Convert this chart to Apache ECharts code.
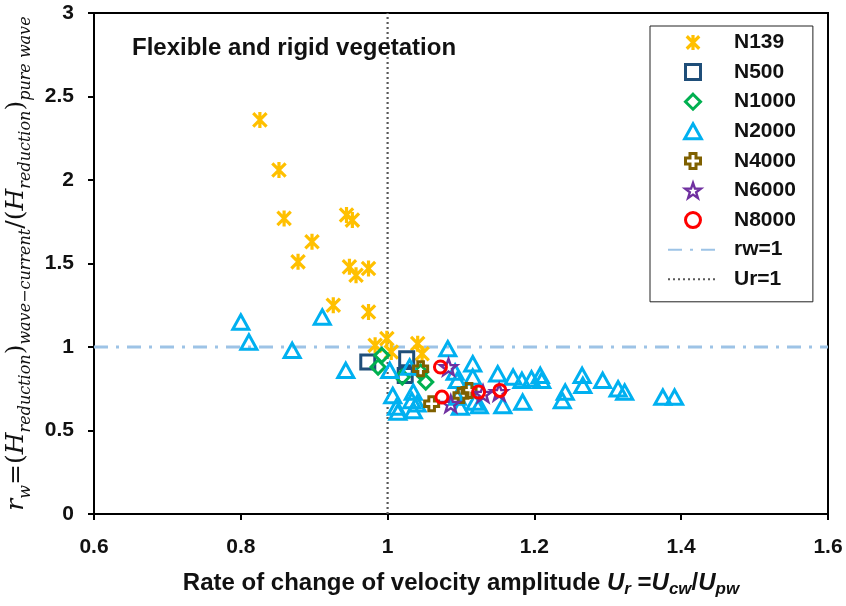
<!DOCTYPE html>
<html><head><meta charset="utf-8">
<script src="https://cdn.jsdelivr.net/npm/echarts@6/dist/echarts.min.js"></script>
<style>html,body{margin:0;padding:0;background:#fff}#c{width:846px;height:606px}</style>
</head><body><div id="c"></div>
<script>
const xTicks = [0.6, 0.8, 1.0, 1.2, 1.4, 1.6];
const yTicks = [0, 0.5, 1, 1.5, 2, 2.5, 3];
const seriesNames = ['N139','N500','N1000','N2000','N4000','N6000','N8000'];
const N139 = [[0.826,2.36],[0.852,2.06],[0.859,1.77],[0.878,1.51],[0.897,1.63],[0.926,1.25],[0.944,1.79],[0.952,1.76],[0.948,1.48],[0.957,1.43],[0.974,1.47],[0.974,1.21],[0.983,1.01],[0.999,1.05],[1.005,0.97],[1.041,1.02],[1.047,0.96]];
const N500 = [[0.973,0.91],[1.026,0.93],[1.024,0.83]];
const N1000 = [[0.992,0.95],[0.987,0.88],[1.020,0.82],[1.045,0.85],[1.052,0.79]];
const N2000 = [[0.800,1.15],[0.811,1.03],[0.870,0.98],[0.911,1.18],[0.943,0.86],[1.003,0.86],[1.007,0.71],[1.012,0.64],[1.014,0.61],[1.030,0.88],[1.033,0.68],[1.035,0.73],[1.035,0.62],[1.040,0.66],[1.082,0.99],[1.092,0.85],[1.095,0.80],[1.095,0.70],[1.099,0.64],[1.116,0.90],[1.116,0.82],[1.119,0.67],[1.125,0.65],[1.150,0.84],[1.157,0.65],[1.171,0.82],[1.183,0.80],[1.184,0.67],[1.196,0.81],[1.208,0.83],[1.210,0.80],[1.238,0.68],[1.242,0.73],[1.265,0.83],[1.266,0.77],[1.293,0.80],[1.314,0.75],[1.323,0.73],[1.375,0.70],[1.391,0.70]];
const N4000 = [[1.045,0.87],[1.060,0.66],[1.100,0.71],[1.111,0.74]];
const N6000 = [[1.083,0.88],[1.086,0.66],[1.130,0.72],[1.152,0.73]];
const N8000 = [[1.072,0.88],[1.074,0.70],[1.124,0.73],[1.153,0.74]];
const rwLine = [[0.6,1],[1.6,1]];
const urLine = [[1,0],[1,3]];

const ASTER = 'path://M0,0L10,10M10,0L0,10M5,-1L5,11';
const SQUARE = 'path://M0,0L10,0L10,10L0,10Z';
const DIAMOND = 'path://M5,0L10,5L5,10L0,5Z';
const TRI = 'path://M5,0L10,9L0,9Z';
const CROSS = 'path://M3,0L7,0L7,3L10,3L10,7L7,7L7,10L3,10L3,7L0,7L0,3L3,3Z';
const STAR = 'path://M5,0L6.18,3.38L9.76,3.45L6.9,5.62L7.94,9.05L5,7L2.06,9.05L3.1,5.62L0.24,3.45L3.82,3.38Z';

function sc(name, data, symbol, size, color, bw) {
  return {type:'scatter', name, data, symbol, symbolSize:size, symbolKeepAspect:true,
    itemStyle:{color:'rgba(0,0,0,0)', borderColor:color, borderWidth:bw, opacity:1},
    emphasis:{disabled:true}, z:3};
}
const chart = echarts.init(document.getElementById('c'), null, {renderer:'canvas'});
const F = "'Liberation Sans', Arial, sans-serif";
const SERIF = "'DejaVu Serif', 'Liberation Serif', serif";
chart.setOption({
  animation:false,
  backgroundColor:'#fff',
  title:{text:'Flexible and rigid vegetation', left:127, top:31,
    textStyle:{fontFamily:F, fontWeight:'bold', fontSize:24, color:'#111'}},
  grid:{left:94, right:18, top:13, bottom:92, outerBoundsMode:'none', containLabel:false,
    show:true, borderColor:'#000', borderWidth:2, backgroundColor:'transparent'},
  legend:{orient:'vertical', left:650, top:26, padding:[6,17,12,17], itemWidth:50, itemHeight:15, itemGap:8.6,
    borderColor:'#222', borderWidth:1, backgroundColor:'#fff',
    itemStyle:{borderWidth:'inherit'},
    textStyle:{fontFamily:F, fontWeight:'bold', fontSize:21, lineHeight:21, color:'#111', padding:[0,0,0,11]},
    data:[...seriesNames,'rw=1','Ur=1']},
  xAxis:{type:'value', min:xTicks[0], max:xTicks[xTicks.length-1], interval:0.2,
    axisLine:{lineStyle:{color:'#000', width:2}},
    axisTick:{show:true, inside:false, length:6, lineStyle:{color:'#000', width:2}},
    splitLine:{show:false},
    axisLabel:{margin:23, fontFamily:F, fontWeight:'bold', fontSize:21, color:'#111', formatter:v=>String(+v.toFixed(1))},
    nameLocation:'middle', nameGap:54,
    name:'{n|Rate of change of velocity amplitude }{i|U}{is|r}{n| =}{i|U}{is|cw}{n|/}{i|U}{is|pw}',
    nameTextStyle:{rich:{
      n:{fontFamily:F, fontWeight:'bold', fontSize:24, color:'#111', lineHeight:30},
      i:{fontFamily:F, fontWeight:'bold', fontStyle:'italic', fontSize:24, color:'#111', lineHeight:30},
      is:{fontFamily:F, fontWeight:'bold', fontStyle:'italic', fontSize:17, color:'#111', lineHeight:17, verticalAlign:'bottom'}
    }}},
  yAxis:{type:'value', min:yTicks[0], max:yTicks[yTicks.length-1], interval:0.5,
    axisLine:{lineStyle:{color:'#000', width:2}},
    axisTick:{show:true, inside:false, length:6, lineStyle:{color:'#000', width:2}},
    splitLine:{show:false},
    axisLabel:{margin:20, fontFamily:F, fontWeight:'bold', fontSize:21, color:'#111', formatter:v=>String(+v.toFixed(1))},
    nameLocation:'middle', nameRotate:90, nameGap:45,
    name:'{i|r}{s|w}{n|=(}{i|H}{s|reduction}{n|)}{s|wave\u2212current}{n|/(}{i|H}{s|reduction}{n|)}{s|pure wave}',
    nameTextStyle:{rich:{
      n:{fontFamily:SERIF, fontSize:25, color:'#111', lineHeight:34},
      i:{fontFamily:SERIF, fontStyle:'italic', fontSize:25, color:'#111', lineHeight:34},
      s:{fontFamily:SERIF, fontStyle:'italic', fontSize:16, color:'#111', lineHeight:17, verticalAlign:'bottom'}
    }}},
  series:[
    sc('N139', N139, ASTER, 16, '#FFC000', 3.2),
    sc('N500', N500, SQUARE, 14, '#1F4E79', 3),
    sc('N1000', N1000, DIAMOND, 14, '#00B050', 3),
    sc('N2000', N2000, TRI, 16, '#00B0F0', 3),
    sc('N4000', N4000, CROSS, 14, '#7F6000', 3),
    sc('N6000', N6000, STAR, 17, '#7030A0', 2.4),
    sc('N8000', N8000, 'circle', 12, '#FF0000', 3),
    {type:'line', name:'rw=1', data:rwLine, symbol:'none', z:2,
      lineStyle:{color:'#9DC3E6', width:3, type:[14,8,3,8]}, itemStyle:{color:'rgba(0,0,0,0)', borderWidth:0}},
    {type:'line', name:'Ur=1', data:urLine, symbol:'none', z:2,
      lineStyle:{color:'#595959', width:2.2, type:[2,3]}, itemStyle:{color:'rgba(0,0,0,0)', borderWidth:0}}
  ]
});
</script></body></html>
